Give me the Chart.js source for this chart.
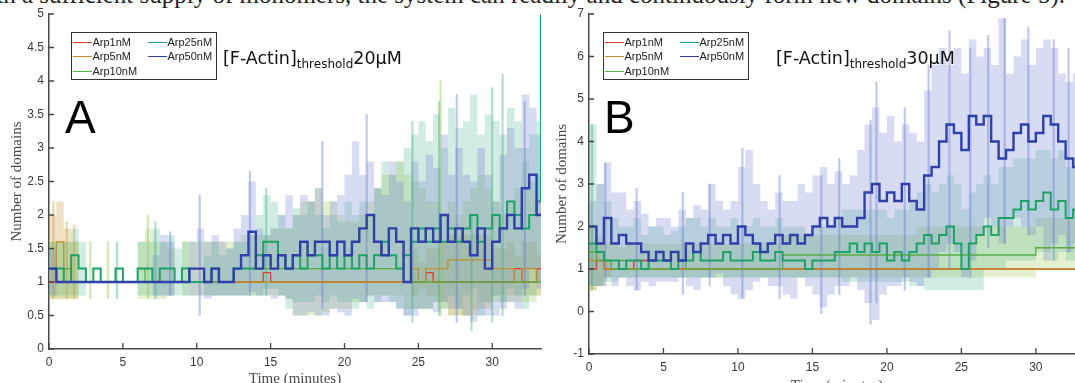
<!DOCTYPE html>
<html>
<head>
<meta charset="utf-8">
<script src="https://cdn.jsdelivr.net/npm/chart.js@4.4.0/dist/chart.umd.min.js"></script>
<style>
html, body { margin: 0; padding: 0; background: #fff; }
body { position: relative; width: 1075px; height: 383px; overflow: hidden; }
canvas { position: absolute; top: 0; }
#chartA { left: 0; }
#chartB { left: 540px; }
.topline { position: absolute; right: 10px; top: -18px; font: 25px/25px 'Liberation Serif', serif; color: #222; white-space: nowrap; }
.legend { position: absolute; top: 32px; width: 146px; height: 48px; box-sizing: border-box; border: 1.5px solid #333; background: #fff; font: 11px 'Liberation Sans', Arial, sans-serif; color: #222; }
.legend div { position: absolute; height: 12px; line-height: 12px; white-space: nowrap; }
.legend i { display: inline-block; width: 19px; height: 0; border-top: 1.3px solid; vertical-align: middle; margin-right: 1px; }
.title { position: absolute; top: 49px; font: 17.5px/18px 'DejaVu Sans', sans-serif; color: #111; white-space: nowrap; }
.title sub { font-size: 12px; vertical-align: -4px; line-height: 0; }
.letter { position: absolute; top: 94px; font: 46px/46px 'Liberation Sans', Arial, sans-serif; color: #000; }
</style>
</head>
<body>
<div class="topline">suggests that, with a sufficient supply of monomers, the system can readily and continuously form new domains (Figure 5).</div>
<canvas id="chartA" width="545" height="392"></canvas>
<canvas id="chartB" width="549" height="396"></canvas>
<div class="title" style="left:223px">[F-Actin]<sub>threshold</sub>20μM</div>
<div class="title" style="left:776px">[F-Actin]<sub>threshold</sub>30μM</div>
<div class="letter" style="left:65px">A</div>
<div class="letter" style="left:604px">B</div>
<script>
'use strict'
//////////////////
// Data
//////////////////
const timeMin = [0,0.5,1,1.5,2,2.5,3,3.5,4,4.5,
  5,5.5,6,6.5,7,7.5,8,8.5,9,9.5,
  10,10.5,11,11.5,12,12.5,13,13.5,14,14.5,
  15,15.5,16,16.5,17,17.5,18,18.5,19,19.5,
  20,20.5,21,21.5,22,22.5,23,23.5,24,24.5,
  25,25.5,26,26.5,27,27.5,28,28.5,29,29.5,
  30,30.5,31,31.5,32,32.5,33,33.3];
const xTickVals = [0,5,10,15,20,25,30];
const yTicksA = [0,0.5,1,1.5,2,2.5,3,3.5,4,4.5,5];
const yTicksB = [-1,0,1,2,3,4,5,6,7];
const seriesNames = ['Arp1nM','Arp5nM','Arp10nM','Arp25nM','Arp50nM'];
const lineColors = ['#e23b32','#bf8f30','#5aae45','#1ea266','#2f41a8'];
const bandColors = ['rgba(226,59,50,0.25)','rgba(205,160,70,0.3)','rgba(170,205,100,0.3)','rgba(70,180,140,0.25)','rgba(110,130,210,0.28)'];
const spikeColors = ['rgba(226,59,50,0.4)','rgba(200,150,60,0.4)','rgba(150,200,90,0.45)','rgba(60,170,130,0.4)','rgba(100,120,205,0.4)'];

// panel A, [F-Actin] threshold 20uM : means
const a1 = [1,1,1,1,1,1,1,1,1,1,
  1,1,1,1,1,1,1,1,1,1,
  1,1,1,1,1,1,1,1,1,1.14,
  1,1,1,1,1,1,1,1,1,1,
  1,1,1,1,1,1,1,1,1,1,
  1,1.14,1,1,1,1,1,1,1,1,
  1,1,1,1.2,1,1,1.2,1.2];
const a5 = [1.2,1.6,1.2,1,1,1,1,1,1,1,
  1,1,1,1,1,1,1,1,1,1,
  1,1,1,1,1,1,1,1,1,1,
  1,1,1,1,1,1,1,1,1,1,
  1,1,1,1,1,1,1,1,1,1.2,
  1,1.2,1.2,1.2,1.33,1.33,1.33,1.33,1.33,1.33,
  1.2,1.2,1.2,1,1.2,1.2,1,1];
const a10 = [1.2,1,1.2,1,1,1,1,1,1,1,
  1,1,1,1.2,1,1,1,1,1,1,
  1,1,1,1,1,1.2,1.2,1.2,1.2,1.2,
  1.2,1.2,1.2,1.2,1.2,1.2,1.2,1.2,1.2,1.2,
  1.2,1.2,1.2,1.2,1.2,1.2,1.2,1.2,1,1,
  1,1,1,1,1,1,1,1,1,1,
  1,1,1,1,1,1,1,1];
const a25 = [1.2,1.2,1,1.4,1.2,1,1.2,1,1,1.2,
  1,1,1.2,1.2,1,1.2,1.2,1,1.2,1,
  1,1,1.2,1,1,1.2,1.2,1.2,1.4,1.6,
  1.6,1.4,1.2,1.4,1.2,1.4,1.4,1.2,1.4,1.2,
  1.4,1.2,1.4,1.2,1.4,1.6,1.4,1.2,1.4,1.6,
  1.8,1.6,1.8,1.6,1.8,1.6,1.8,2,1.6,1.8,
  2,1.8,2.2,2,1.8,2,2.2,5];
const a50 = [1.2,1,1,1,1,1,1,1,1,1,
  1,1,1,1,1,1,1,1,1,1.2,
  1.2,1,1.2,1,1,1.2,1.4,1.75,1.2,1.4,
  1.2,1.4,1.2,1.4,1.6,1.4,1.6,1.6,1.4,1.6,
  1.4,1.6,1.8,2,1.6,1.4,1.8,1.6,1,1.8,
  1.6,1.8,1.6,2,1.6,1.8,1.6,1.4,1.8,1.2,
  1.6,1.8,2,1.8,2.4,2.6,2,2];
// panel A : spread (upper / lower)
const a5Hi = [2,2.2,1.8,1.6,1,1,1,1,1,1,
  1,1,1,1,1,1,1,1,1,1,
  1,1,1,1,1,1,1,1,1,1,
  1,1,1,1,1,1,1,1,1,1,
  1,1,1,1,1,1,1,1,1,1.5,
  1.3,1.5,1.5,1.6,1.7,1.7,1.7,1.7,1.7,1.7,
  1.5,1.5,1.6,1.4,1.6,1.6,1.4,1.4];
const a5Lo = [0.75,0.75,0.75,0.75,1,1,1,1,1,1,
  1,1,1,1,1,1,1,1,1,1,
  1,1,1,1,1,1,1,1,1,1,
  1,1,1,1,1,1,1,1,1,1,
  1,1,1,1,1,1,1,1,1,0.8,
  0.9,0.8,0.8,0.7,0.5,0.5,0.5,0.5,0.6,0.6,
  0.8,0.8,0.8,0.8,0.8,0.8,0.8,0.8];
const a10Hi = [1.6,1.6,1.6,1.6,1,1,1,1,1,1,
  1,1,1.6,1.8,1.6,1.6,1.5,1,1.6,1.6,
  1.6,1.6,1.6,1.6,1.6,1.6,1.7,1.7,1.7,1.7,
  1.8,1.8,1.8,2,2.2,2.2,2.4,2.2,2.2,2,
  1.9,1.9,2,2.2,2.4,2.6,2.6,2.8,2.6,2.5,
  2.4,2.2,2.2,2,2.2,2,2.2,2.4,2.6,2.4,
  2.2,2,2.2,2.4,2.8,2.5,2.6,2.6];
const a10Lo = [0.75,0.75,0.75,0.75,1,1,1,1,1,1,
  1,1,0.75,0.75,0.75,0.75,0.8,1,0.8,0.8,
  0.8,0.8,0.8,0.8,0.8,0.8,0.8,0.8,0.8,0.8,
  0.8,0.8,0.75,0.5,0.5,0.5,0.5,0.55,0.6,0.6,
  0.6,0.7,0.7,0.8,0.8,0.8,0.8,0.8,0.6,0.6,
  0.6,0.6,0.7,0.6,0.5,0.5,0.5,0.6,0.7,0.7,
  0.7,0.7,0.7,0.7,0.7,0.7,0.8,0.8];
const a25Hi = [1.6,1.6,1.6,1.8,1.6,1,1,1,1,1,
  1,1,1.6,1.6,1.8,1.6,1.7,1.5,1.6,1,
  1,1.4,1.6,1.4,1.5,1.6,1.6,1.7,2,2.3,
  2.2,2,1.8,2.1,2,2.2,2,1.8,2,1.9,
  2.2,2,2.2,2,2.4,2.8,2.6,2.8,3,3.2,
  3.4,3.1,3.5,3,3.6,3.3,3.4,3.8,3.2,3.5,
  3.4,3.2,3.6,3.4,3,3.2,3.4,3.4];
const a25Lo = [0.8,0.8,0.8,0.8,0.8,1,1,1,1,1,
  1,1,0.8,0.8,0.8,0.8,0.8,0.8,0.8,1,
  1,0.8,0.8,0.8,0.8,0.8,0.8,0.8,0.8,0.9,
  0.9,0.8,0.6,0.7,0.7,0.7,0.8,0.7,0.8,0.7,
  0.7,0.6,0.7,0.6,0.7,0.8,0.7,0.6,0.5,0.6,
  0.6,0.6,0.7,0.6,0.8,0.6,0.8,0.9,0.5,0.7,
  0.8,0.7,0.9,0.8,0.6,0.8,1,1];
const a50Hi = [1.5,1,1,1,1,1,1,1,1,1,
  1,1,1,1,1.4,1.7,1.6,1,1,1.6,
  1.8,1.6,1.7,1.6,1.5,1.8,2,2.5,1.8,1.7,
  1.8,2,2.3,2,2.3,2.2,2.4,2,2.2,2.3,
  2.6,3.1,2.6,2.8,2.4,2.3,2.8,2.5,2.2,2.8,
  2.5,2.9,2.7,3.2,2.6,3,2.6,2.5,3,2.6,
  2.2,2.9,3.3,3,3.8,3.6,3.2,3];
const a50Lo = [0.8,1,1,1,1,1,1,1,1,1,
  1,1,1,1,0.8,0.8,0.8,1,1,0.8,
  0.8,0.75,0.8,0.8,0.8,0.8,0.8,0.85,0.8,0.8,
  0.75,0.8,0.75,0.5,0.5,0.55,0.5,0.5,0.6,0.55,
  0.5,0.75,0.7,0.8,0.7,0.7,0.7,0.6,0.5,0.5,
  0.6,0.6,0.55,0.7,0.6,0.6,0.5,0.4,0.5,0.5,
  0.5,0.6,0.7,0.6,0.9,1.2,0.9,0.9];
// panel A : single-frame spikes
const spikeTimeA = [0.3,1.2,1.7,2.8,4.0,4.6,6.7,7.2,8.2,10.2,13.6,14.7,18.5,21.5,24.6,26.4,26.5,27.6,28.6,30,30.7,32.2];
const spikeLowA  = [0.75,0.75,0.75,0.75,0.75,0.75,0.75,0.75,0.8,0.5,0.8,0.8,0.6,0.7,0.4,0.5,0.5,0.4,0.27,0.4,0.5,0.8];
const spikeHighA = [2.2,1.9,1.85,1.6,1.6,1.6,2.0,1.9,1.75,2.3,2.65,2.4,3.1,3.5,3.4,3.7,4.0,3.8,2.0,3.9,4.1,3.7];
const spikeSerA  = [1,1,1,2,2,3,2,3,4,4,4,3,4,4,3,3,2,4,3,3,3,4];

// panel B, [F-Actin] threshold 30uM : means
const b1 = [1,1.2,1,1,1,1,1.2,1.2,1,1,
  1,1,1,1,1,1,1,1,1,1,
  1,1,1,1,1,1,1,1,1,1,
  1,1,1,1,1,1,1,1,1,1,
  1,1,1,1,1,1,1,1,1,1,
  1,1,1,1,1,1,1,1,1,1,
  1,1,1,1,1,1,1,1];
const b5 = [1.2,1.4,1,1,1,1,1,1,1,1,
  1,1,1,1,1,1,1,1,1,1,
  1,1,1,1,1,1,1,1,1,1,
  1,1,1,1,1,1,1,1,1,1,
  1,1,1,1,1,1,1,1,1,1,
  1,1,1,1,1,1,1,1,1,1,
  1,1,1,1,1,1,1,1];
const b10 = [1.4,1.2,1.2,1,1.2,1,1,1,1,1,
  1,1,1.2,1,1,1,1,1,1,1,
  1,1,1,1,1,1,1.33,1.33,1.33,1.33,
  1.33,1.33,1.33,1.33,1.33,1.33,1.33,1.33,1.33,1.33,
  1.33,1.33,1.33,1.33,1.33,1.33,1.33,1.33,1.33,1.33,
  1.33,1.33,1.33,1.33,1.33,1.33,1.33,1.33,1.33,1.33,
  1.5,1.5,1.5,1.5,1.5,1.5,1.5,1.5];
const b25 = [1.6,1.4,1.2,1.2,1,1.2,1.2,1,1.2,1.2,
  1.2,1,1.2,1.2,1.4,1.2,1.2,1.2,1.4,1.2,
  1.2,1.2,1.4,1.2,1.2,1.4,1.2,1.2,1.2,1,
  1.2,1.2,1.2,1.4,1.4,1.6,1.4,1.6,1.4,1.6,
  1.2,1.4,1.2,1.4,1.6,1.8,1.6,1.8,2,1.6,
  1,1.6,1.8,2,1.8,2.2,2.2,2.4,2.6,2.4,
  2.6,2.8,2.4,2.6,2.2,2.4,2.4,2.4];
const b50 = [2,1.6,2.2,1.6,1.8,1.6,1.6,1.4,1.2,1.4,
  1.2,1.4,1.2,1.6,1.4,1.6,1.8,1.6,1.8,1.6,
  2,1.8,1.6,1.4,1.6,1.8,1.6,1.8,1.6,1.8,
  2,2.2,2,2.2,2,2,2.2,2.8,3,2.6,
  2.8,2.6,3,2.6,2.4,3.2,3.4,4,4.4,4.2,
  3.8,4.6,4.4,4.6,4,3.6,3.8,4.2,4.4,4,
  4.2,4.6,4.4,4,3.6,3.4,3.6,3.6];
// panel B : spread (upper / lower)
const b5Hi = [1.6,1.6,1.2,1,1,1,1,1,1,1,
  1,1,1,1,1,1,1,1,1,1,
  1,1,1,1,1,1,1,1,1,1,
  1,1,1,1,1,1,1,1,1,1,
  1,1,1,1,1,1,1,1,1,1,
  1,1,1,1,1,1,1,1,1,1,
  1,1,1,1,1,1,1,1];
const b5Lo = [0.5,0.6,0.8,1,1,1,1,1,1,1,
  1,1,1,1,1,1,1,1,1,1,
  1,1,1,1,1,1,1,1,1,1,
  1,1,1,1,1,1,1,1,1,1,
  1,1,1,1,1,1,1,1,1,1,
  1,1,1,1,1,1,1,1,1,1,
  1,1,1,1,1,1,1,1];
const b10Hi = [2,1.8,1.6,1.6,1.5,1.6,1.6,1.6,1.6,1.6,
  1.6,1.6,1.6,1.6,1.6,1.6,1.6,1.6,1.6,1.6,
  1.6,1.6,1.6,1.6,1.6,1.6,1.8,1.8,1.8,1.8,
  1.8,1.8,1.8,1.8,1.8,1.8,1.8,1.8,1.8,1.8,
  1.8,1.8,1.8,1.8,2,2,2,2,2,2,
  2,2,2,2,2,2,2,2,2,2,
  2.2,2.2,2.2,2.2,2.2,2.2,2.2,2.2];
const b10Lo = [0.5,0.6,0.8,0.8,0.8,0.8,0.8,0.8,0.8,0.8,
  0.8,0.8,0.8,0.8,0.8,0.8,0.8,0.8,0.8,0.8,
  0.8,0.8,0.8,0.8,0.8,0.8,0.8,0.8,0.8,0.8,
  0.8,0.8,0.8,0.8,0.8,0.8,0.8,0.8,0.8,0.8,
  0.8,0.8,0.8,0.8,0.8,0.8,0.8,0.8,0.8,0.8,
  0.8,0.8,0.8,0.8,0.8,0.8,0.8,0.8,0.8,0.8,
  1,1,1,1,1,1,1,1];
const b25Hi = [4.4,3,2.6,2.2,2,2,2.2,1.8,2,2,
  1.8,1.9,2,2.2,2.2,2,2.2,2,2,2.2,
  2,2,2.2,2,2,2.2,2,2,2,1.8,
  2,2,2,2.2,2.4,2.4,2.4,2.4,2.4,2.4,
  2.2,2.4,2.4,2.6,2.8,3,2.8,3,3.2,3,
  2.4,2.8,3,3.2,3,3.4,3.4,3.6,3.6,3.6,
  3.8,3.8,3.6,3.8,3.4,3.6,3.6,3.6];
const b25Lo = [0.6,0.6,0.7,0.7,0.8,0.8,0.8,0.8,0.8,0.8,
  0.8,0.8,0.8,0.8,0.8,0.8,0.8,0.8,0.8,0.8,
  0.8,0.8,0.8,0.8,0.8,0.8,0.8,0.8,0.8,0.8,
  0.8,0.8,0.8,0.8,0.7,0.7,0.7,0.7,0.7,0.7,
  0.7,0.7,0.7,0.6,0.6,0.5,0.5,0.5,0.5,0.5,
  0.5,0.5,0.5,1,1,1,1.2,1.2,1.2,1.2,
  1.4,1.4,1.2,1.4,1.2,1.2,1.2,1.2];
const b50Hi = [2.6,3,3.5,2.8,2.8,2.4,2.6,2.3,2,2.2,
  2.2,2,2.4,2.2,2.5,2.4,3,2.6,2.4,2.6,
  3.4,3.8,3,2.6,2.4,2.8,2.6,2.6,3,2.8,
  3.2,3.4,3,3.3,3,3.2,3.8,4.4,4.8,4.2,
  4.6,4,4.4,4.2,4,5.2,5.8,6.2,5.8,6.2,
  5.6,6.4,6,6.2,5.8,6.9,5.6,6,6.4,5.8,
  6.2,6.4,6.2,5.6,5.4,5.6,5.6,5.6];
const b50Lo = [0.6,0.6,0.8,0.6,0.8,0.6,0.5,0.7,0.6,0.7,
  0.7,0.7,0.8,0.6,0.5,0.8,0.8,0.9,0.6,0.4,
  0.3,0.5,0.7,0.8,0.6,0.6,0.4,0.3,0.8,0.6,
  0.4,0.1,0.4,0.6,0.6,0.8,0.5,0.2,-0.2,0.4,
  0.6,0.6,0.8,0.7,0.6,0.8,1,1.4,1.6,1.4,
  0.8,1.2,1.8,2.2,2,1.6,2,2.2,2,1.8,
  2,1.2,1.6,1.8,1.4,1.6,1.8,1.8];
// panel B : single-frame spikes
const spikeTimeB = [0.2,1.1,3.2,6.3,8.1,10.3,12.8,15.6,16.8,18.9,19.3,21.2,22.8,24.2,25.6,26.8,27.9,29.5,31.2,32.2];
const spikeLowB  = [0.5,0.6,0.5,0.4,0.6,0.3,0.3,-0.05,0.4,-0.3,0.2,0.5,0.8,1.0,0.8,1.5,1.6,1.8,1.2,1.4];
const spikeHighB = [4.4,3.5,2.9,2.8,3.0,3.85,3.2,3.2,3.6,4.5,5.4,4.8,5.8,6.6,6.2,6.5,6.9,6.7,6.4,6.2];
const spikeSerB  = [3,4,4,4,4,4,4,4,4,4,4,4,4,4,4,4,4,4,4,4];

//////////////////
// Functions
//////////////////
function pts(vals) {
  return timeMin.map((t, i) => ({ x: t, y: vals[i] }));
}

function meanLine(vals, k, width, order) {
  return { label: seriesNames[k], data: pts(vals), borderColor: lineColors[k], borderWidth: width,
    stepped: true, pointRadius: 0, fill: false, order: order };
}

// upper dataset fills down to the lower one right after it
function band(hi, lo, k, order) {
  return [
    { data: pts(hi), borderColor: 'rgba(0,0,0,0)', borderWidth: 0, backgroundColor: bandColors[k],
      fill: '+1', stepped: true, pointRadius: 0, order: order },
    { data: pts(lo), borderColor: 'rgba(0,0,0,0)', borderWidth: 0, fill: false,
      stepped: true, pointRadius: 0, order: order }
  ];
}

// thin floating bars for the one-frame excursions
function spikes(times, lows, highs, ser) {
  return {
    type: 'bar',
    data: times.map((t, i) => ({ x: t, y: [lows[i], highs[i]] })),
    backgroundColor: ser.map(k => spikeColors[k]),
    borderWidth: 0, barThickness: 1.5, grouped: false, order: 9
  };
}

// matlab style ticks pointing into the plot
const inwardTicks = {
  id: 'inwardTicks',
  afterDatasetsDraw(chart) {
    const { ctx, chartArea, scales: { x, y } } = chart;
    ctx.save();
    ctx.strokeStyle = '#444';
    ctx.lineWidth = 1.3;
    ctx.beginPath();
    x.ticks.forEach(t => {
      const px = x.getPixelForValue(t.value);
      ctx.moveTo(px, chartArea.bottom);
      ctx.lineTo(px, chartArea.bottom - 6);
    });
    y.ticks.forEach(t => {
      const py = y.getPixelForValue(t.value);
      ctx.moveTo(chartArea.left, py);
      ctx.lineTo(chartArea.left + 5, py);
    });
    ctx.stroke();
    ctx.restore();
  }
};

function buildChart(id, cfg) {
  new Chart(document.getElementById(id), {
    type: 'line',
    data: { datasets: cfg.datasets },
    options: {
      responsive: false,
      animation: false,
      devicePixelRatio: 1,
      events: [],
      layout: { padding: { left: 0, right: 4, top: 14, bottom: 0 } },
      plugins: { legend: { display: false }, tooltip: { enabled: false } },
      scales: {
        x: {
          type: 'linear', min: 0, max: 33.3, offset: false,
          grid: { display: false, drawTicks: false },
          border: { color: '#4a4a4a', width: 1.5 },
          afterBuildTicks: s => { s.ticks = xTickVals.map(v => ({ value: v })); },
          afterFit: s => { s.height = cfg.xh; },
          ticks: { autoSkip: false, maxRotation: 0, padding: 6, color: '#3a3a3a',
            font: { family: 'Liberation Sans', size: 12 }, callback: v => String(v) },
          title: { display: true, text: 'Time (minutes)', color: '#4a4a4a',
            font: { family: 'Liberation Serif', size: 15, lineHeight: 1 }, padding: { top: 0, bottom: cfg.xtPad } }
        },
        y: {
          type: 'linear', min: cfg.yTicks[0], max: cfg.yTicks[cfg.yTicks.length - 1],
          grid: { display: false, drawTicks: false },
          border: { color: '#4a4a4a', width: 1.5 },
          afterBuildTicks: s => { s.ticks = cfg.yTicks.map(v => ({ value: v })); },
          afterFit: s => { s.width = 49; },
          ticks: { autoSkip: false, padding: 5, color: '#3a3a3a',
            font: { family: 'Liberation Sans', size: 12 }, callback: v => String(v) },
          title: { display: true, text: 'Number of domains', color: '#4a4a4a',
            font: { family: 'Liberation Serif', size: 15, lineHeight: 1 }, padding: { top: cfg.ytPad, bottom: 0 } }
        }
      }
    },
    plugins: [inwardTicks]
  });
}

function buildLegend(left) {
  const box = document.createElement('div');
  box.className = 'legend';
  box.style.left = left + 'px';
  const slots = [[0.5, 2.5], [0.5, 16.5], [0.5, 31.5], [75.5, 2.5], [75.5, 16.5]];
  seriesNames.forEach((name, i) => {
    const d = document.createElement('div');
    d.style.left = slots[i][0] + 'px';
    d.style.top = slots[i][1] + 'px';
    d.innerHTML = `<i style="border-color:${lineColors[i]}"></i>${name}`;
    box.appendChild(d);
  });
  document.body.appendChild(box);
}

function start() {
  buildChart('chartA', {
    yTicks: yTicksA, xh: 43, xtPad: 5.5, ytPad: 9.5,
    datasets: [
      meanLine(a50, 4, 2.4, 1),
      meanLine(a25, 3, 2, 2),
      meanLine(a10, 2, 1.3, 3),
      meanLine(a5, 1, 1.3, 4),
      meanLine(a1, 0, 1.3, 5),
      spikes(spikeTimeA, spikeLowA, spikeHighA, spikeSerA),
      ...band(a50Hi, a50Lo, 4, 10),
      ...band(a25Hi, a25Lo, 3, 11),
      ...band(a10Hi, a10Lo, 2, 12),
      ...band(a5Hi, a5Lo, 1, 13)
    ]
  });
  buildChart('chartB', {
    yTicks: yTicksB, xh: 42, xtPad: 2.5, ytPad: 14.5,
    datasets: [
      meanLine(b50, 4, 2.4, 1),
      meanLine(b25, 3, 2, 2),
      meanLine(b10, 2, 1.3, 3),
      meanLine(b5, 1, 1.3, 4),
      meanLine(b1, 0, 1.3, 5),
      spikes(spikeTimeB, spikeLowB, spikeHighB, spikeSerB),
      ...band(b50Hi, b50Lo, 4, 10),
      ...band(b25Hi, b25Lo, 3, 11),
      ...band(b10Hi, b10Lo, 2, 12),
      ...band(b5Hi, b5Lo, 1, 13)
    ]
  });
  buildLegend(71);
  buildLegend(603);
}

start();
</script>
</body>
</html>
